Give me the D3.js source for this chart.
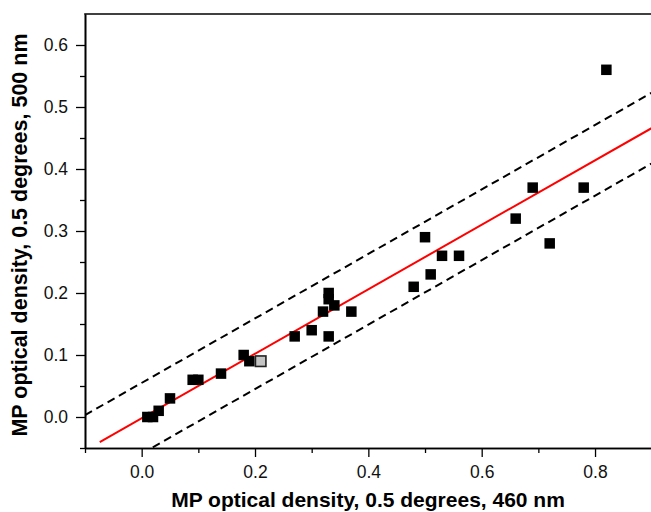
<!DOCTYPE html>
<html>
<head>
<meta charset="utf-8">
<script src="https://cdn.jsdelivr.net/npm/d3@7"></script>
<style>
  html, body { margin: 0; padding: 0; background: #fff; }
  svg { display: block; }
</style>
</head>
<body>
<svg id="chart" width="651" height="512"></svg>
<script>
// ---- data ----
const xValues = [0.82, 0.69, 0.78, 0.66, 0.72, 0.50, 0.53, 0.56, 0.51, 0.48,
                 0.33, 0.33, 0.34, 0.32, 0.37, 0.30, 0.27, 0.33,
                 0.18, 0.19, 0.21, 0.14, 0.09, 0.10, 0.05, 0.03, 0.01, 0.02];
const yValues = [0.56, 0.37, 0.37, 0.32, 0.28, 0.29, 0.26, 0.26, 0.23, 0.21,
                 0.20, 0.19, 0.18, 0.17, 0.17, 0.14, 0.13, 0.13,
                 0.10, 0.09, 0.09, 0.07, 0.06, 0.06, 0.03, 0.01, 0.00, 0.00];
const highlighted = [false, false, false, false, false, false, false, false, false, false,
                     false, false, false, false, false, false, false, false,
                     false, false, true, false, false, false, false, false, false, false];
const fitSlope = 0.52;
const fitIntercept = -0.002;
const bandHalfWidth = 0.057;
const fitRange = [-0.074, 0.9];
const bandRange = [-0.1, 0.9];
const xMajorTicks = [0.0, 0.2, 0.4, 0.6, 0.8];
const xMinorTicks = [-0.1, 0.1, 0.3, 0.5, 0.7];
const yMajorTicks = [0.0, 0.1, 0.2, 0.3, 0.4, 0.5, 0.6];
const yMinorTicks = [-0.05, 0.05, 0.15, 0.25, 0.35, 0.45, 0.55];
const xTitle = "MP optical density, 0.5 degrees, 460 nm";
const yTitle = "MP optical density, 0.5 degrees, 500 nm";

// ---- layout ----
const mLeft = 85, mRight = 651.7, mTop = 14, mBottom = 448;
const svg = d3.select("#chart");
const font = "'Liberation Sans', Arial, Helvetica, sans-serif";

const x = d3.scaleLinear().domain([-0.1, 0.9]).range([mLeft, mRight]);
const y = d3.scaleLinear().domain([-0.05, 0.65]).range([mBottom, mTop]);

svg.append("rect").attr("width", 651).attr("height", 512).attr("fill", "#fff");

svg.append("defs").append("clipPath").attr("id", "plotclip")
  .append("rect").attr("x", mLeft).attr("y", mTop)
  .attr("width", mRight - mLeft).attr("height", mBottom - mTop);

const plot = svg.append("g").attr("clip-path", "url(#plotclip)");

// band lines
const line = d3.line().x(d => x(d[0])).y(d => y(d[1]));
[bandHalfWidth, -bandHalfWidth].forEach(off => {
  plot.append("path")
    .datum(bandRange.map(v => [v, fitSlope * v + fitIntercept + off]))
    .attr("d", line)
    .attr("fill", "none").attr("stroke", "#000")
    .attr("stroke-width", 2).attr("stroke-dasharray", "8,5");
});
// fit line
plot.append("path")
  .datum(fitRange.map(v => [v, fitSlope * v + fitIntercept]))
  .attr("d", line)
  .attr("fill", "none").attr("stroke", "#ff0000").attr("stroke-width", 2);

// points
const s = 10.5;
const pts = xValues.map((v, i) => ({ x: v, y: yValues[i], h: highlighted[i] }));
plot.selectAll("rect.pt").data(pts).enter().append("rect")
  .attr("class", "pt")
  .attr("x", d => x(d.x) - s / 2)
  .attr("y", d => y(d.y) - s / 2)
  .attr("width", s).attr("height", s)
  .attr("fill", d => d.h ? "#c4c4c4" : "#000")
  .attr("stroke", d => d.h ? "#222" : "none")
  .attr("stroke-width", d => d.h ? 1.6 : 0);

// axes
function styleAxis(g) {
  g.selectAll("path.domain").attr("stroke", "#000").attr("stroke-width", 1.6);
  g.selectAll(".tick line").attr("stroke", "#000").attr("stroke-width", 1.3);
  g.selectAll("text").attr("font-family", font).attr("font-size", 17.5).attr("fill", "#111");
}

const gxMinor = svg.append("g").attr("transform", `translate(0,${mBottom})`)
  .call(d3.axisBottom(x).tickValues(xMinorTicks).tickSize(5).tickSizeOuter(0).tickFormat(""));
styleAxis(gxMinor);
const gx = svg.append("g").attr("transform", `translate(0,${mBottom})`)
  .call(d3.axisBottom(x).tickValues(xMajorTicks).tickSize(9).tickSizeOuter(0)
    .tickPadding(9).tickFormat(d3.format(".1f")));
styleAxis(gx);

const gyMinor = svg.append("g").attr("transform", `translate(${mLeft},0)`)
  .call(d3.axisLeft(y).tickValues(yMinorTicks).tickSize(5).tickSizeOuter(0).tickFormat(""));
styleAxis(gyMinor);
const gy = svg.append("g").attr("transform", `translate(${mLeft},0)`)
  .call(d3.axisLeft(y).tickValues(yMajorTicks).tickSize(9).tickSizeOuter(0)
    .tickPadding(8).tickFormat(d3.format(".1f")));
styleAxis(gy);

// top spine
svg.append("line").attr("x1", mLeft - 0.8).attr("x2", 651).attr("y1", mTop).attr("y2", mTop)
  .attr("stroke", "#000").attr("stroke-width", 1.6);

// titles
svg.append("text").attr("x", 368).attr("y", 507)
  .attr("text-anchor", "middle").attr("font-family", font)
  .attr("font-weight", "bold").attr("font-size", 21).attr("fill", "#000")
  .text(xTitle);
svg.append("text").attr("transform", "translate(27,235) rotate(-90)")
  .attr("text-anchor", "middle").attr("font-family", font)
  .attr("font-weight", "bold").attr("font-size", 21.5).attr("fill", "#000")
  .text(yTitle);
</script>
</body>
</html>
